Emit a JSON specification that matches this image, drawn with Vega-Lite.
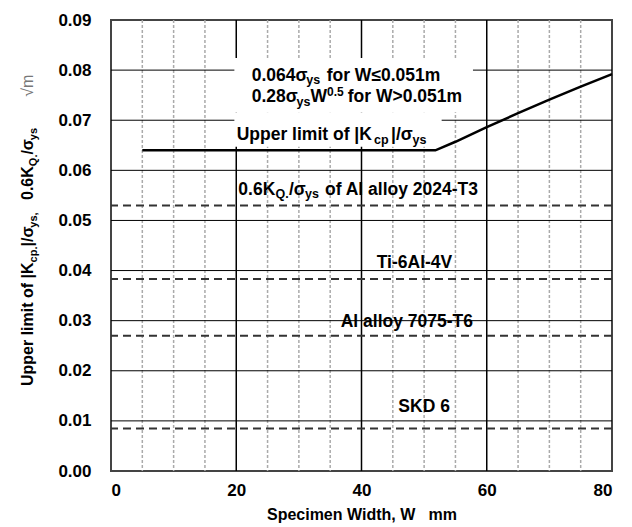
{
  "$schema": "https://vega.github.io/schema/vega-lite/v6.json",
  "width": 501,
  "height": 451,
  "autosize": {"type": "none"},
  "padding": {"left": 111, "top": 20, "right": 20, "bottom": 56},
  "background": "white",
  "config": {
    "view": {"stroke": "#444", "strokeWidth": 2},
    "font": "Liberation Sans"
  },
  "datasets": {
    "hgrid": [{"v": 0.01}, {"v": 0.02}, {"v": 0.03}, {"v": 0.04}, {"v": 0.05}, {"v": 0.06}, {"v": 0.07}, {"v": 0.08}],
    "vmajor": [{"W": 20}, {"W": 40}, {"W": 60}],
    "vminor": [{"W": 5}, {"W": 10}, {"W": 15}, {"W": 25}, {"W": 30}, {"W": 35}, {"W": 45}, {"W": 50}, {"W": 55}, {"W": 65}, {"W": 70}, {"W": 75}],
    "boxes": [
      {"x1": 19.7, "x2": 57.8, "y1": 0.0824, "y2": 0.0716},
      {"x1": 19.7, "x2": 52.8, "y1": 0.0716, "y2": 0.0647}
    ],
    "materials": [
      {"name": "Al alloy 2024-T3", "v": 0.0530},
      {"name": "Ti-6Al-4V", "v": 0.0383},
      {"name": "Al alloy 7075-T6", "v": 0.0270},
      {"name": "SKD 6", "v": 0.0085}
    ],
    "curve": [
      {"W": 5, "K": 0.0640},
      {"W": 51.8, "K": 0.0640},
      {"W": 55, "K": 0.0657},
      {"W": 60, "K": 0.0686},
      {"W": 65, "K": 0.0714},
      {"W": 70, "K": 0.0741},
      {"W": 75, "K": 0.0767},
      {"W": 80, "K": 0.0792}
    ],
    "labels": [
      {"x": 22.47, "y": 0.07784, "t": "0.064σ", "role": "main"},
      {"x": 31.19, "y": 0.07784, "t": "ys", "role": "sub"},
      {"x": 34.44, "y": 0.07784, "t": "for W≤0.051m", "role": "main"},
      {"x": 22.47, "y": 0.07356, "t": "0.28σ", "role": "main"},
      {"x": 29.64, "y": 0.07356, "t": "ys", "role": "sub"},
      {"x": 31.86, "y": 0.07356, "t": "W", "role": "main"},
      {"x": 34.49, "y": 0.07356, "t": "0.5", "role": "sup"},
      {"x": 37.80, "y": 0.07356, "t": "for W>0.051m", "role": "main"},
      {"x": 20.07, "y": 0.06605, "t": "Upper limit of", "role": "main"},
      {"x": 38.85, "y": 0.06605, "t": "|K", "role": "main"},
      {"x": 41.99, "y": 0.06605, "t": "cp", "role": "sub"},
      {"x": 44.71, "y": 0.06605, "t": "|/σ", "role": "main"},
      {"x": 48.14, "y": 0.06605, "t": "ys", "role": "sub"},
      {"x": 20.33, "y": 0.05508, "t": "0.6K", "role": "main"},
      {"x": 26.27, "y": 0.05508, "t": "Q.", "role": "sub"},
      {"x": 28.42, "y": 0.05508, "t": "/σ", "role": "main"},
      {"x": 30.98, "y": 0.05508, "t": "ys", "role": "sub"},
      {"x": 34.17, "y": 0.05508, "t": "of Al alloy 2024-T3", "role": "main"},
      {"x": 42.43, "y": 0.04045, "t": "Ti-6Al-4V", "role": "main"},
      {"x": 36.68, "y": 0.02880, "t": "Al alloy 7075-T6", "role": "main"},
      {"x": 45.88, "y": 0.01183, "t": "SKD 6", "role": "main"}
    ],
    "ytitle": [
      {"x": -12.45, "y": 0.01696, "t": "Upper limit of |K", "role": "main"},
      {"x": -12.45, "y": 0.04163, "t": "cp.", "role": "sub"},
      {"x": -12.45, "y": 0.04480, "t": "|/σ", "role": "main"},
      {"x": -12.45, "y": 0.04855, "t": "ys,", "role": "sub"},
      {"x": -12.45, "y": 0.05408, "t": "0.6K", "role": "main"},
      {"x": -12.45, "y": 0.06083, "t": "Q.", "role": "sub"},
      {"x": -12.45, "y": 0.06314, "t": "/σ", "role": "main"},
      {"x": -12.45, "y": 0.06601, "t": "ys", "role": "sub"},
      {"x": -12.45, "y": 0.07470, "t": "√m", "role": "unit"}
    ]
  },
  "layer": [
    {
      "data": {"name": "vminor"},
      "mark": {"type": "rule", "color": "#aaaaaa", "strokeWidth": 1.5, "strokeDash": [3, 2]},
      "encoding": {
        "x": {
          "field": "W", "type": "quantitative",
          "scale": {"domain": [0, 80], "nice": false, "zero": false},
          "axis": {
            "values": [0, 20, 40, 60, 80], "format": "d",
            "labelFont": "Liberation Sans", "labelFontWeight": "bold", "labelFontSize": 17, "labelColor": "#000000",
            "labelPadding": 11, "ticks": false, "domain": false, "grid": false,
            "title": "Specimen Width, W\u00a0\u00a0\u00a0mm",
            "titleFont": "Liberation Sans", "titleFontSize": 16, "titleFontWeight": "bold", "titleColor": "#000000",
            "titlePadding": 8
          }
        }
      }
    },
    {
      "data": {"name": "hgrid"},
      "mark": {"type": "rule", "color": "#000000", "strokeWidth": 1},
      "encoding": {
        "y": {
          "field": "v", "type": "quantitative",
          "scale": {"domain": [0, 0.09], "nice": false, "zero": true},
          "axis": {
            "values": [0, 0.01, 0.02, 0.03, 0.04, 0.05, 0.06, 0.07, 0.08, 0.09], "format": ".2f",
            "labelFont": "Liberation Sans", "labelFontWeight": "bold", "labelFontSize": 17, "labelColor": "#000000",
            "labelPadding": 20, "ticks": false, "domain": false, "grid": false, "title": null
          }
        }
      }
    },
    {
      "data": {"name": "vmajor"},
      "mark": {"type": "rule", "color": "#000000", "strokeWidth": 1.5},
      "encoding": {"x": {"field": "W", "type": "quantitative"}}
    },
    {
      "data": {"name": "boxes"},
      "mark": {"type": "rect", "fill": "white", "stroke": null},
      "encoding": {
        "x": {"field": "x1", "type": "quantitative"},
        "x2": {"field": "x2"},
        "y": {"field": "y1", "type": "quantitative"},
        "y2": {"field": "y2"}
      }
    },
    {
      "data": {"name": "materials"},
      "mark": {"type": "rule", "color": "#333333", "strokeWidth": 2, "strokeDash": [8, 5]},
      "encoding": {"y": {"field": "v", "type": "quantitative"}}
    },
    {
      "data": {"name": "curve"},
      "mark": {"type": "line", "color": "#000000", "strokeWidth": 2.5},
      "encoding": {
        "x": {"field": "W", "type": "quantitative"},
        "y": {"field": "K", "type": "quantitative"}
      }
    },
    {
      "data": {"name": "labels"},
      "transform": [{"filter": "datum.role === 'main'"}],
      "mark": {"type": "text", "align": "left", "baseline": "alphabetic", "font": "Liberation Sans", "fontWeight": "bold", "fontSize": 17.5, "color": "#000000"},
      "encoding": {
        "x": {"field": "x", "type": "quantitative"},
        "y": {"field": "y", "type": "quantitative"},
        "text": {"field": "t"}
      }
    },
    {
      "data": {"name": "labels"},
      "transform": [{"filter": "datum.role === 'sub'"}],
      "mark": {"type": "text", "align": "left", "baseline": "alphabetic", "font": "Liberation Sans", "fontWeight": "bold", "fontSize": 12.5, "dy": 3.5, "color": "#000000"},
      "encoding": {
        "x": {"field": "x", "type": "quantitative"},
        "y": {"field": "y", "type": "quantitative"},
        "text": {"field": "t"}
      }
    },
    {
      "data": {"name": "labels"},
      "transform": [{"filter": "datum.role === 'sup'"}],
      "mark": {"type": "text", "align": "left", "baseline": "alphabetic", "font": "Liberation Sans", "fontWeight": "bold", "fontSize": 12, "dy": -6.5, "color": "#000000"},
      "encoding": {
        "x": {"field": "x", "type": "quantitative"},
        "y": {"field": "y", "type": "quantitative"},
        "text": {"field": "t"}
      }
    },
    {
      "data": {"name": "ytitle"},
      "transform": [{"filter": "datum.role === 'main'"}],
      "mark": {"type": "text", "angle": 270, "align": "left", "baseline": "alphabetic", "font": "Liberation Sans", "fontWeight": "bold", "fontSize": 16, "color": "#000000"},
      "encoding": {
        "x": {"field": "x", "type": "quantitative"},
        "y": {"field": "y", "type": "quantitative"},
        "text": {"field": "t"}
      }
    },
    {
      "data": {"name": "ytitle"},
      "transform": [{"filter": "datum.role === 'sub'"}],
      "mark": {"type": "text", "angle": 270, "align": "left", "baseline": "alphabetic", "font": "Liberation Sans", "fontWeight": "bold", "fontSize": 11, "dy": 4, "color": "#000000"},
      "encoding": {
        "x": {"field": "x", "type": "quantitative"},
        "y": {"field": "y", "type": "quantitative"},
        "text": {"field": "t"}
      }
    },
    {
      "data": {"name": "ytitle"},
      "transform": [{"filter": "datum.role === 'unit'"}],
      "mark": {"type": "text", "angle": 270, "align": "left", "baseline": "alphabetic", "font": "Liberation Sans", "fontWeight": "normal", "fontSize": 16, "color": "#777777"},
      "encoding": {
        "x": {"field": "x", "type": "quantitative"},
        "y": {"field": "y", "type": "quantitative"},
        "text": {"field": "t"}
      }
    }
  ]
}
